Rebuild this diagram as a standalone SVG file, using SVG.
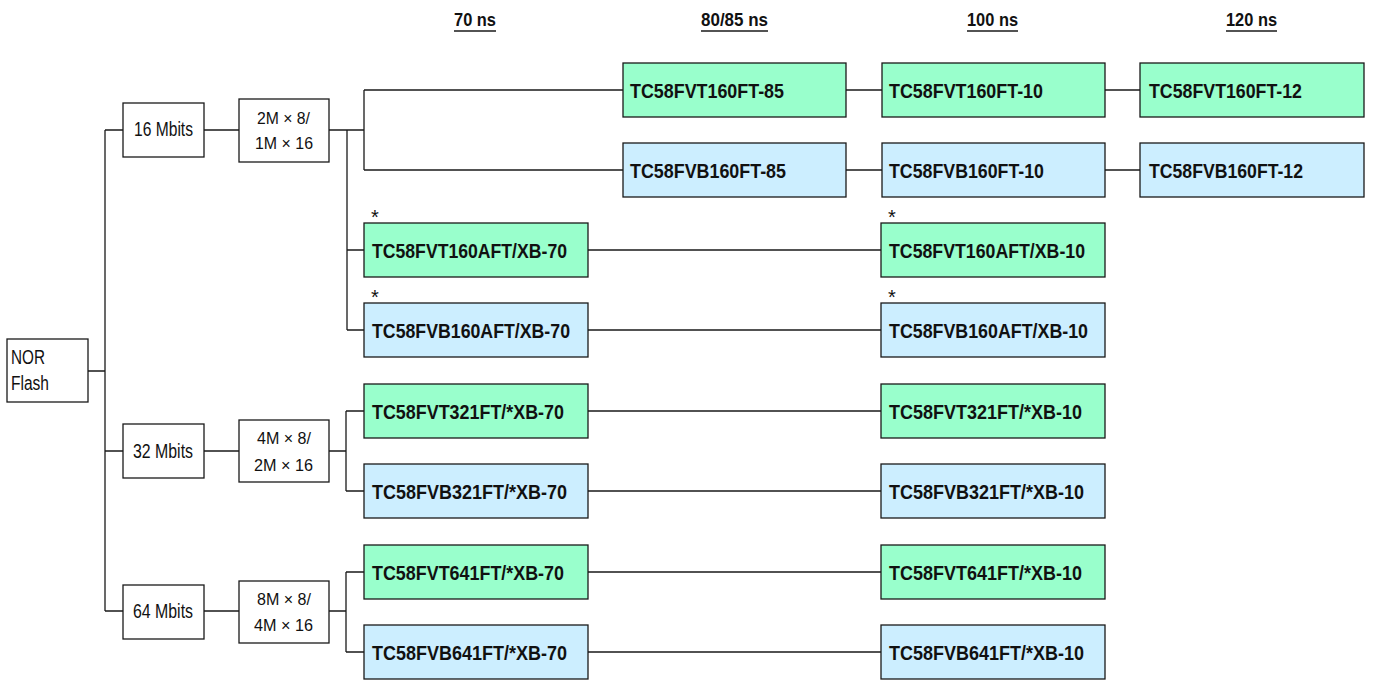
<svg xmlns="http://www.w3.org/2000/svg" width="1375" height="680" viewBox="0 0 1375 680">
<style>
.bx{stroke:#1a1a1a;stroke-width:1.3}
.w{fill:#ffffff}
.g{fill:#99ffcc}
.b{fill:#cceeff}
.ln{stroke:#1a1a1a;stroke-width:1.3;fill:none}
.t{font-family:"Liberation Sans",Arial,sans-serif;font-weight:bold;font-size:21px;fill:#111}
.s{font-family:"Liberation Sans",Arial,sans-serif;font-size:20px;fill:#111}
.m{font-family:"Liberation Sans",Arial,sans-serif;font-size:17px;fill:#111}
.h{font-family:"Liberation Sans",Arial,sans-serif;font-weight:bold;font-size:18.5px;fill:#111}
.a{font-family:"Liberation Sans",Arial,sans-serif;font-size:20px;fill:#111}
</style>
<g id="headers">
<text class="h" x="454" y="26" textLength="42" lengthAdjust="spacingAndGlyphs">70 ns</text>
<line class="ln" x1="454" y1="31" x2="496" y2="31"/>
<text class="h" x="701" y="26" textLength="67" lengthAdjust="spacingAndGlyphs">80/85 ns</text>
<line class="ln" x1="701" y1="31" x2="768" y2="31"/>
<text class="h" x="967" y="26" textLength="51" lengthAdjust="spacingAndGlyphs">100 ns</text>
<line class="ln" x1="967" y1="31" x2="1018" y2="31"/>
<text class="h" x="1226" y="26" textLength="51" lengthAdjust="spacingAndGlyphs">120 ns</text>
<line class="ln" x1="1226" y1="31" x2="1277" y2="31"/>
</g>
<g id="connectors">
<path class="ln" d="M88 371H105M105 130V611M105 130H123M105 451H123M105 611H123"/>
<path class="ln" d="M204 130H239M204 451H239M204 611H239"/>
<path class="ln" d="M329 130H364M364 90V170M364 90H623M364 170H623"/>
<path class="ln" d="M347 130V330M347 250H364M347 330H364"/>
<path class="ln" d="M329 451H346M346 411V491M346 411H364M346 491H364"/>
<path class="ln" d="M329 611H346M346 572V652M346 572H364M346 652H364"/>
<path class="ln" d="M846 90H882M1105 90H1140M846 170H882M1105 170H1140"/>
<path class="ln" d="M588 250H881M588 330H881M588 411H881M588 491H881M588 572H881M588 652H881"/>
</g>
<g id="nor">
<rect class="bx w" x="7" y="339" width="81" height="63"/>
<text class="s" x="11" y="364" font-size="18" textLength="34" lengthAdjust="spacingAndGlyphs">NOR</text>
<text class="s" x="11" y="390" font-size="18" textLength="38" lengthAdjust="spacingAndGlyphs">Flash</text>
</g>
<g id="m16">
<rect class="bx w" x="123" y="103" width="81" height="54"/>
<text class="s" x="134" y="135.5" textLength="59" lengthAdjust="spacingAndGlyphs">16 Mbits</text>
</g>
<g id="m32">
<rect class="bx w" x="123" y="424" width="81" height="54"/>
<text class="s" x="133" y="458" textLength="60" lengthAdjust="spacingAndGlyphs">32 Mbits</text>
</g>
<g id="m64">
<rect class="bx w" x="123" y="585" width="81" height="54"/>
<text class="s" x="133" y="618" textLength="60" lengthAdjust="spacingAndGlyphs">64 Mbits</text>
</g>
<g id="o16">
<rect class="bx w" x="239" y="99" width="90" height="63"/>
<text class="m" x="257" y="124" textLength="53" lengthAdjust="spacingAndGlyphs">2M × 8/</text>
<text class="m" x="255" y="149" textLength="58" lengthAdjust="spacingAndGlyphs">1M × 16</text>
</g>
<g id="o32">
<rect class="bx w" x="239" y="420" width="90" height="62"/>
<text class="m" x="257" y="444" textLength="54" lengthAdjust="spacingAndGlyphs">4M × 8/</text>
<text class="m" x="254" y="471" textLength="59" lengthAdjust="spacingAndGlyphs">2M × 16</text>
</g>
<g id="o64">
<rect class="bx w" x="239" y="581" width="90" height="62"/>
<text class="m" x="257" y="605" textLength="54" lengthAdjust="spacingAndGlyphs">8M × 8/</text>
<text class="m" x="254" y="631" textLength="59" lengthAdjust="spacingAndGlyphs">4M × 16</text>
</g>
<g id="fvt160ft85"><rect class="bx g" x="623" y="63" width="223" height="54"/><text class="t" x="630" y="98" textLength="154" lengthAdjust="spacingAndGlyphs">TC58FVT160FT-85</text></g>
<g id="fvb160ft85"><rect class="bx b" x="623" y="143" width="223" height="54"/><text class="t" x="630" y="178" textLength="156" lengthAdjust="spacingAndGlyphs">TC58FVB160FT-85</text></g>
<g id="fvt160ft10"><rect class="bx g" x="882" y="63" width="223" height="54"/><text class="t" x="889" y="98" textLength="154" lengthAdjust="spacingAndGlyphs">TC58FVT160FT-10</text></g>
<g id="fvb160ft10"><rect class="bx b" x="882" y="143" width="223" height="54"/><text class="t" x="889" y="178" textLength="155" lengthAdjust="spacingAndGlyphs">TC58FVB160FT-10</text></g>
<g id="fvt160ft12"><rect class="bx g" x="1140" y="63" width="224" height="54"/><text class="t" x="1149" y="98" textLength="153" lengthAdjust="spacingAndGlyphs">TC58FVT160FT-12</text></g>
<g id="fvb160ft12"><rect class="bx b" x="1140" y="143" width="224" height="54"/><text class="t" x="1149" y="178" textLength="154" lengthAdjust="spacingAndGlyphs">TC58FVB160FT-12</text></g>
<g id="fvt160aft70"><text class="a" x="371" y="223.5">*</text><rect class="bx g" x="364" y="223" width="224" height="54"/><text class="t" x="372" y="258" textLength="195" lengthAdjust="spacingAndGlyphs">TC58FVT160AFT/XB-70</text></g>
<g id="fvb160aft70"><text class="a" x="371" y="304">*</text><rect class="bx b" x="364" y="303" width="224" height="54"/><text class="t" x="372" y="338" textLength="198" lengthAdjust="spacingAndGlyphs">TC58FVB160AFT/XB-70</text></g>
<g id="fvt160aft10"><text class="a" x="888" y="223.5">*</text><rect class="bx g" x="881" y="223" width="224" height="54"/><text class="t" x="889" y="258" textLength="196" lengthAdjust="spacingAndGlyphs">TC58FVT160AFT/XB-10</text></g>
<g id="fvb160aft10"><text class="a" x="888" y="304">*</text><rect class="bx b" x="881" y="303" width="224" height="54"/><text class="t" x="889" y="338" textLength="199" lengthAdjust="spacingAndGlyphs">TC58FVB160AFT/XB-10</text></g>
<g id="fvt321_70"><rect class="bx g" x="364" y="384" width="224" height="54"/><text class="t" x="372" y="419" textLength="192" lengthAdjust="spacingAndGlyphs">TC58FVT321FT/*XB-70</text></g>
<g id="fvb321_70"><rect class="bx b" x="364" y="464" width="224" height="54"/><text class="t" x="372" y="499" textLength="195" lengthAdjust="spacingAndGlyphs">TC58FVB321FT/*XB-70</text></g>
<g id="fvt641_70"><rect class="bx g" x="364" y="545" width="224" height="54"/><text class="t" x="372" y="580" textLength="192" lengthAdjust="spacingAndGlyphs">TC58FVT641FT/*XB-70</text></g>
<g id="fvb641_70"><rect class="bx b" x="364" y="625" width="224" height="54"/><text class="t" x="372" y="660" textLength="195" lengthAdjust="spacingAndGlyphs">TC58FVB641FT/*XB-70</text></g>
<g id="fvt321_10"><rect class="bx g" x="881" y="384" width="224" height="54"/><text class="t" x="889" y="419" textLength="193" lengthAdjust="spacingAndGlyphs">TC58FVT321FT/*XB-10</text></g>
<g id="fvb321_10"><rect class="bx b" x="881" y="464" width="224" height="54"/><text class="t" x="889" y="499" textLength="195" lengthAdjust="spacingAndGlyphs">TC58FVB321FT/*XB-10</text></g>
<g id="fvt641_10"><rect class="bx g" x="881" y="545" width="224" height="54"/><text class="t" x="889" y="580" textLength="193" lengthAdjust="spacingAndGlyphs">TC58FVT641FT/*XB-10</text></g>
<g id="fvb641_10"><rect class="bx b" x="881" y="625" width="224" height="54"/><text class="t" x="889" y="660" textLength="195" lengthAdjust="spacingAndGlyphs">TC58FVB641FT/*XB-10</text></g>
</svg>
